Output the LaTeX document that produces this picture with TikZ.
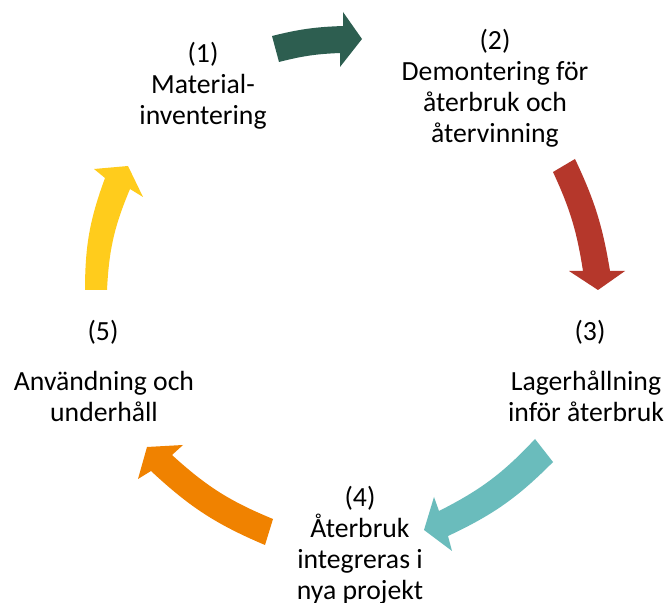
\documentclass[tikz,border=0pt]{standalone}
\usepackage{fontspec}
\setmainfont{Carlito}
\definecolor{cA}{RGB}{45,94,80}
\definecolor{cB}{RGB}{181,55,43}
\definecolor{cC}{RGB}{106,188,188}
\definecolor{cD}{RGB}{240,130,0}
\definecolor{cE}{RGB}{255,204,28}
\begin{document}
\begin{tikzpicture}[x=1pt,y=1pt,
  lbl/.style={font=\fontsize{27.7}{31}\selectfont, align=center, inner sep=0pt}]
\useasboundingbox (0,0) rectangle (670,603);
\fill[white] (0,0) rectangle (670,603);
% labels
\node[lbl] (t1) at (203,517) {(1)\\Material-\\inventering};
\node[lbl] (t2) at (495,515) {(2)\\Demontering för\\återbruk och\\återvinning};
\node[lbl] (n3) at (590,271) {(3)};
\node[lbl] (t3) at (586,207) {Lagerhållning\\inför återbruk};
\node[lbl] (n5) at (103,271) {(5)};
\node[lbl] (t5) at (104,207) {Användning och\\underhåll};
\node[lbl] (t4) at (360,58) {(4)\\Återbruk\\integreras i\\nya projekt};
% block arrows
\fill[cA] (272,567) to[bend left=6] (343,577) -- (343,591) -- (362,564) -- (340,536) -- (340,550) to[bend right=6] (279,541) -- cycle;
\fill[cB] (575,444) to[bend left=8] (610,332) -- (625,332) -- (598,313) -- (569,332) -- (583,332) to[bend right=8] (553,431) -- cycle;
\fill[cC] (553,141) to[bend left=10] (448,67) -- (452,52) -- (424,73) -- (434,106) -- (439,92) to[bend right=10] (535,164) -- cycle;
\fill[cD] (265,58) to[bend left=10] (151,132) -- (138,124) -- (147,156) -- (183,158) -- (172,148) to[bend right=10] (273,84) -- cycle;
\fill[cE] (85,313) to[bend left=10] (105,425) -- (94,434) -- (128,437) -- (143,406) -- (130,414) to[bend right=10] (107,313) -- cycle;
\end{tikzpicture}
\end{document}
